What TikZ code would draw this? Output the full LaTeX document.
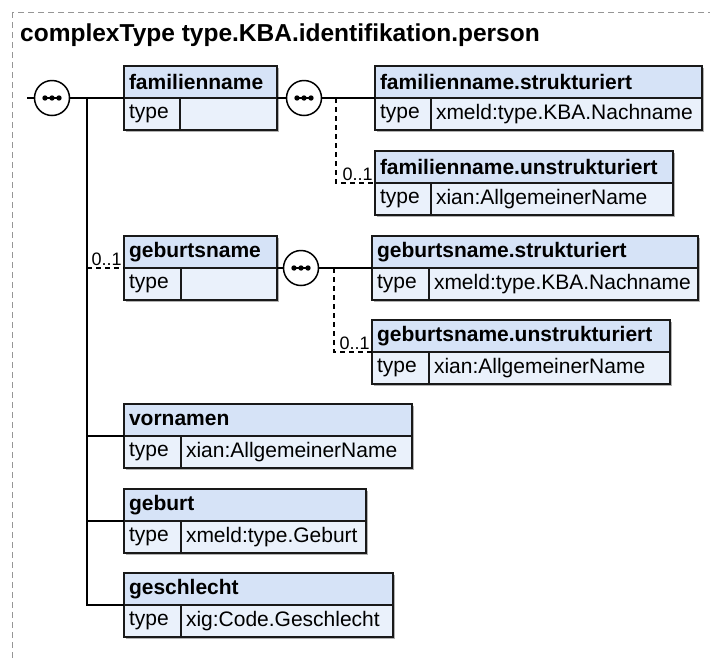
\documentclass[tikz,border=0pt]{standalone}
\usepackage{fontspec}
\setmainfont{Liberation Sans}
\usetikzlibrary{shadows}
\hyphenpenalty=10000
\exhyphenpenalty=10000
\definecolor{hdrfill}{RGB}{214,227,247}
\definecolor{rowfill}{RGB}{234,241,251}
\definecolor{boxline}{RGB}{25,25,25}
\definecolor{frameline}{RGB}{150,150,150}
\newcommand\boxfont{\fontsize{21}{24}\selectfont}
\tikzset{
  xbox/.style={draw=boxline, line width=1.8pt, anchor=north west, minimum height=32pt,
    inner xsep=5pt, align=left, outer sep=0pt,
    drop shadow={shadow xshift=1.5pt, shadow yshift=-1.5pt, fill=black!30, opacity=1}},
  hdr/.style={xbox, fill=hdrfill, font=\boxfont\bfseries},
  row/.style={xbox, fill=rowfill, font=\boxfont},
  seq/.style={draw, circle, line width=1.5pt, fill=white, minimum size=35pt, inner sep=0pt},
  link/.style={line width=1.5pt},
  opt/.style={line width=1.5pt, dash pattern=on 5pt off 4pt},
  card/.style={font=\fontsize{18}{20}\selectfont, inner sep=1.5pt}
}
\begin{document}
\begin{tikzpicture}[x=1pt,y=-1pt]
\useasboundingbox (0,0) rectangle (710,657);
\clip (0,0) rectangle (710,657);
\draw[frameline, line width=1pt, dash pattern=on 6pt off 4pt] (12,12) rectangle (740,690);
\node[anchor=base west, inner sep=0pt, font=\fontsize{24.5}{29}\selectfont\bfseries] (title) at (20,41) {complexType type.KBA.identifikation.person};

% sequence circles
\node[seq] (seqA) at (52,98) {};
\node[seq] (seqB) at (304,98) {};
\node[seq] (seqC) at (301,268) {};
\foreach \s in {seqA,seqB,seqC} {
  \draw[line width=1.3pt] (\s) ++(-8,0) -- ++(16,0);
  \fill (\s) ++(-7,0) circle (2.7pt);
  \fill (\s) circle (2.7pt);
  \fill (\s) ++(7,0) circle (2.7pt);
}

% familienname
\node[hdr, text width=143pt] (fam) at (124,66) {familienname};
\node[row, text width=46pt] (famT) at (fam.south west) {type};
\node[row, text width=87pt] (famV) at (famT.north east) {};
\node[hdr, text width=317pt] (fnS) at (375,66) {familienname.strukturiert};
\node[row, text width=46pt] (fnST) at (fnS.south west) {type};
\node[row, text width=261pt] (fnSV) at (fnST.north east) {xmeld:type.KBA.Nachname};
\node[hdr, text width=288pt] (fnU) at (375,151) {familienname.unstrukturiert};
\node[row, text width=46pt] (fnUT) at (fnU.south west) {type};
\node[row, text width=232pt] (fnUV) at (fnUT.north east) {xian:AllgemeinerName};

% geburtsname
\node[hdr, text width=143pt] (geb) at (124,236) {geburtsname};
\node[row, text width=47pt] (gebT) at (geb.south west) {type};
\node[row, text width=86pt] (gebV) at (gebT.north east) {};
\node[hdr, text width=316pt] (gbS) at (372,236) {geburtsname.strukturiert};
\node[row, text width=47pt] (gbST) at (gbS.south west) {type};
\node[row, text width=259pt] (gbSV) at (gbST.north east) {xmeld:type.KBA.Nachname};
\node[hdr, text width=288pt] (gbU) at (372,320) {geburtsname.unstrukturiert};
\node[row, text width=47pt] (gbUT) at (gbU.south west) {type};
\node[row, text width=231pt] (gbUV) at (gbUT.north east) {xian:AllgemeinerName};

% rest
\node[hdr, text width=278pt] (vor) at (124,404) {vornamen};
\node[row, text width=47pt] (vorT) at (vor.south west) {type};
\node[row, text width=221pt] (vorV) at (vorT.north east) {xian:AllgemeinerName};
\node[hdr, text width=232pt] (gebu) at (124,489) {geburt};
\node[row, text width=47pt] (gebuT) at (gebu.south west) {type};
\node[row, text width=175pt] (gebuV) at (gebuT.north east) {xmeld:type.Geburt};
\node[hdr, text width=259pt] (ges) at (124,573) {geschlecht};
\node[row, text width=47pt] (gesT) at (ges.south west) {type};
\node[row, text width=202pt] (gesV) at (gesT.north east) {xig:Code.Geschlecht};

% connectors
\coordinate (start) at (27,98);
\coordinate (trunk) at (87,98);
\coordinate (fnBr) at (336,98);
\coordinate (gbBr) at (334,268);
\draw[link] (start) -- (seqA);
\draw[link] (seqA) -- (fam.south west);
\draw[link] (trunk) |- (ges.south west);
\draw[link] (trunk |- vor.south west) -- (vor.south west);
\draw[link] (trunk |- gebu.south west) -- (gebu.south west);
\draw[opt] (trunk |- geb.south west) -- (geb.south west) node[card, pos=1, above left] {0..1};
\draw[link] (famV.north east) -- (seqB);
\draw[link] (seqB) -- (fnS.south west);
\draw[opt] (fnBr) |- (fnU.south west) node[card, pos=1, above left] {0..1};
\draw[link] (gebV.north east) -- (seqC);
\draw[link] (seqC) -- (gbS.south west);
\draw[opt] (gbBr) |- (gbU.south west) node[card, pos=1, above left] {0..1};
\end{tikzpicture}
\end{document}
